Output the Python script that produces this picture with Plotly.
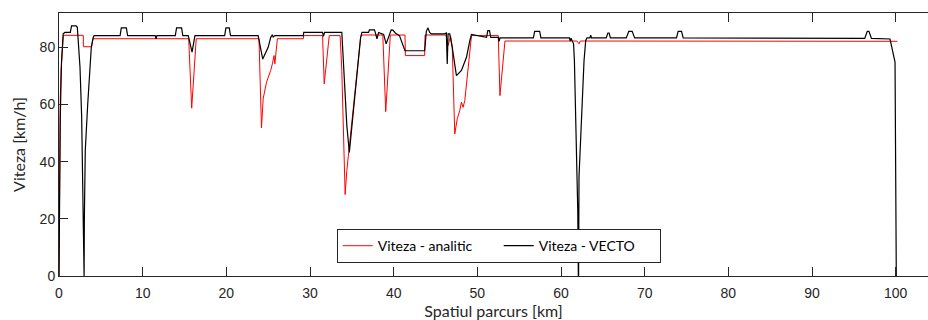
import plotly.graph_objects as go

# Viteza - analitic (red)
red_km = [0, 0.03, 0.08, 0.15, 0.25, 0.4, 0.52, 2.9, 2.92, 3.9, 4.05,
          15.5, 15.86, 16.4,
          23.9, 24.2, 24.4, 24.8, 25.1, 25.3, 25.5, 25.7, 25.8, 25.9, 26.1,
          29.2, 29.25, 31.5, 31.7, 32.3,
          33.6, 33.8, 34.2, 34.4, 34.8, 35.2, 35.6, 36.05, 36.2,
          38.7, 39.05, 39.6, 41.35, 41.4, 43.7, 43.75,
          46.25, 46.5, 46.8, 47.0, 47.3, 47.6, 47.9, 48.1, 48.3, 48.5, 49.3,
          52.5, 52.7, 53.3,
          61.9, 62.15, 62.3, 100.2]
red_v = [0, 30, 50, 62, 72, 80, 84.2, 84.2, 80.2, 80.2, 83.0,
         83.0, 58.7, 83.0,
         83.0, 51.8, 62.0, 67.8, 70.1, 71.9, 74.2, 77.1, 74.2, 76.5, 83.0,
         83.0, 84.1, 84.1, 67.2, 84.1,
         84.1, 71.9, 28.5, 36.9, 48.6, 57.9, 69.5, 83.5, 84.3,
         84.3, 57.5, 84.3, 84.3, 77.1, 77.1, 84.3,
         84.3, 80.6, 84.0, 80.0, 49.7, 55.0, 57.9, 60.8, 59.0, 61.4, 84.1,
         84.1, 63.1, 82.2,
         82.2, 81.2, 82.2, 82.1]

# Viteza - VECTO (black)
blk_km = [0, 0.05, 0.15, 0.3, 0.5, 0.7, 1.35, 1.5, 2.05, 2.19, 2.35, 2.51, 2.71, 2.87, 2.95, 3.0,
          3.03, 3.14, 3.43, 3.7, 3.86, 4.1, 4.2,
          7.3, 7.45, 8.05, 8.2,
          11.5, 11.6, 11.7,
          13.9, 14.05, 14.65, 14.8,
          15.45, 15.9, 16.25,
          19.8, 19.95, 20.35, 20.5,
          23.8, 24.35, 25.0, 25.3, 25.5, 25.6, 25.8,
          29.2, 29.25, 31.5, 31.6, 31.75,
          33.8, 34.0, 34.4, 34.7, 35.2, 35.6, 36.05, 36.2,
          37.0, 37.1, 37.7, 37.8, 38.0, 38.2, 38.8, 39.1, 39.4, 39.7, 39.9, 40.2, 40.7, 41.0, 41.35,
          43.7, 43.9, 44.1, 44.3, 44.5,
          46.1, 46.3, 46.4, 46.5, 46.7, 47.0, 47.5, 48.1, 48.7, 49.1, 49.3,
          51.1, 51.25, 51.45, 51.6, 52.5, 52.6, 52.7,
          56.7, 56.85, 57.45, 57.6,
          61.0, 61.1, 61.2, 61.3, 61.5, 61.6, 61.75, 61.87, 62.0, 62.07, 62.1,
          62.15, 62.45, 62.75, 62.95, 63.1, 63.45, 63.55, 63.65,
          65.4, 65.6, 65.75, 65.9,
          67.8, 68.1, 68.5, 68.8,
          73.8, 74.0, 74.4, 74.6,
          96.3, 96.6, 96.8, 97.1,
          99.32, 99.92, 100.0, 100.04, 100.07]
blk_v = [0, 30, 55, 75, 84.7, 85.2, 85.2, 87.5, 87.5, 87.0, 80.0, 73.0, 55.5, 26.4, 0, 0,
         20, 43.9, 60.0, 73.0, 80.0, 83.5, 84.1,
         84.1, 86.8, 86.8, 84.1,
         84.1, 83.0, 84.1,
         84.1, 86.8, 86.8, 84.1,
         84.1, 78.3, 84.1,
         84.1, 86.8, 86.8, 84.1,
         84.1, 75.9, 80.0, 83.5, 84.4, 83.6, 84.1,
         84.1, 85.2, 85.2, 83.8, 85.2,
         85.2, 75.0, 52.6, 43.2, 57.9, 69.5, 83.5, 85.2,
         85.2, 86.1, 86.1, 85.2, 83.0, 85.2, 84.5, 81.2, 84.0, 86.1, 86.0, 85.0, 84.0, 81.5, 78.8,
         78.8, 85.5, 86.8, 85.2, 84.7,
         84.7, 85.0, 74.2, 84.7, 84.7, 80.0, 70.1, 71.9, 76.5, 82.3, 84.5,
         83.5, 85.8, 85.8, 83.5, 83.5, 82.1, 83.3,
         83.3, 85.6, 85.6, 83.3,
         83.3, 82.2, 83.2, 82.5, 81.2, 75.3, 57.9, 40.4, 23.0, 0, 0,
         34.6, 57.9, 75.3, 82.3, 83.3, 83.3, 84.2, 83.3,
         83.3, 85.0, 85.0, 83.3,
         83.3, 85.6, 85.6, 83.3,
         83.3, 85.6, 85.6, 83.3,
         83.1, 85.6, 85.6, 83.1,
         82.9, 74.8, 49.8, 26.4, 0]

x_ticks = [0, 10, 20, 30, 40, 50, 60, 70, 80, 90, 100]
y_ticks = [0, 20, 40, 60, 80]

axis_col = "#262626"
fig = go.Figure()
fig.add_trace(go.Scatter(x=red_km, y=red_v, mode="lines", name="Viteza - analitic",
                         line=dict(color="#ff0000", width=1)))
fig.add_trace(go.Scatter(x=blk_km, y=blk_v, mode="lines", name="Viteza - VECTO",
                         line=dict(color="#000000", width=1.2)))

fig.update_layout(
    width=928, height=320,
    margin=dict(l=59, r=0, t=13, b=44, autoexpand=False),
    paper_bgcolor="white", plot_bgcolor="white",
    showlegend=True,
    legend=dict(orientation="h", x=0.506, y=0.049, xanchor="center", yanchor="bottom",
                bgcolor="white", bordercolor=axis_col, borderwidth=1,
                font=dict(family="Lato", size=14, color="#000000"),
                itemwidth=30, entrywidth=116, entrywidthmode="pixels"),
)
fig.update_xaxes(range=[0, 103.86], tickvals=x_ticks, ticks="inside", ticklen=9,
                 tickcolor=axis_col, showline=True, linecolor=axis_col, linewidth=1,
                 mirror="ticks", showgrid=False, zeroline=False, ticklabelstandoff=4,
                 automargin=False,
                 tickfont=dict(family="Liberation Sans", size=14, color=axis_col),
                 title=dict(text="Spatiul parcurs [km]", standoff=13,
                            font=dict(family="Lato", size=16, color=axis_col)))
fig.update_yaxes(range=[0, 92], tickvals=y_ticks, ticks="inside", ticklen=9,
                 tickcolor=axis_col, showline=True, linecolor=axis_col, linewidth=1,
                 mirror=False, showgrid=False, zeroline=False, automargin=False,
                 tickfont=dict(family="Liberation Sans", size=14, color=axis_col),
                 title=dict(text="Viteza [km/h]", standoff=10,
                            font=dict(family="Lato", size=16, color=axis_col)))

fig.write_html("out.html")
